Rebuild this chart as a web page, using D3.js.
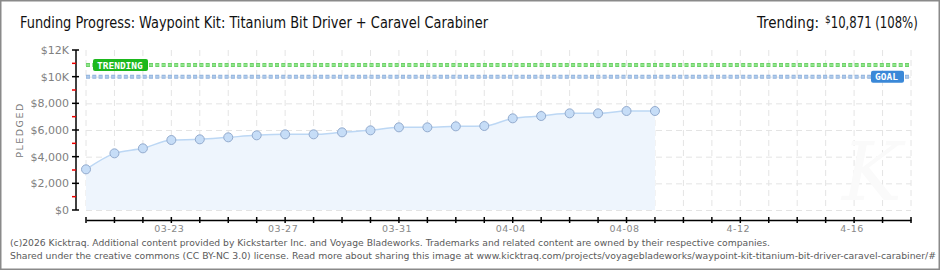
<!DOCTYPE html>
<html>
<head>
<meta charset="utf-8">
<script src="https://cdn.jsdelivr.net/npm/d3@7/dist/d3.min.js"></script>
<style>
  body { margin: 0; background: #fff; }
  svg { display: block; }
</style>
</head>
<body>
<div class="bigvis"></div>
<script>
var width = 940
var height = 270

// pledged total per day
var days = ["03-20","03-21","03-22","03-23","03-24","03-25","03-26","03-27","03-28","03-29",
            "03-30","03-31","04-01","04-02","04-03","04-04","04-05","04-06","04-07","04-08","04-09"]
var pledged = [3050, 4250, 4625, 5250, 5300, 5450, 5600, 5675, 5675, 5825,
               5975, 6200, 6200, 6275, 6300, 6875, 7050, 7250, 7250, 7425, 7425]

var goal = 10000
var trending = 10871

var tickDays = ["03-23", "03-27", "03-31", "04-04", "04-08", "04-12", "04-16"]
var tickLabels = ["03-23", "03-27", "03-31", "04-04", "04-08", "4-12", "4-16"]
var yTicks = [0, 2000, 4000, 6000, 8000, 10000, 12000]
var yTickLabels = ["$0", "$2,000", "$4,000", "$6,000", "$8,000", "$10K", "$12K"]

var parse = d3.utcParse("%Y-%m-%d")
function day(s){ return parse("2026-" + s) }

var svg = d3.select(".bigvis").append("svg")
    .attr("width", width)
    .attr("height", height)

// frame
svg.append("rect")
    .attr("x", 0.5).attr("y", 0.5)
    .attr("width", width - 1).attr("height", height - 1)
    .attr("fill", "#fff")
    .attr("stroke", "#8a8a8a")
    .attr("stroke-width", 2)

var x = d3.scaleUtc()
    .domain([day("03-20"), day("04-18")])
    .range([86, 911])
var y = d3.scaleLinear()
    .domain([0, 12000])
    .range([210, 50])

var allDays = d3.utcDay.range(day("03-20"), d3.utcDay.offset(day("04-18"), 1))

// grid
var grid = svg.append("g").attr("stroke", "#e4e4e4").attr("stroke-dasharray", "6,4")
grid.selectAll("line.v").data(allDays).enter().append("line")
    .attr("x1", d => x(d)).attr("x2", d => x(d))
    .attr("y1", y(12000)).attr("y2", y(0))
grid.selectAll("line.h").data(yTicks.slice(0, 6)).enter().append("line")
    .attr("x1", x.range()[0]).attr("x2", x.range()[1])
    .attr("y1", d => y(d) + 0.5).attr("y2", d => y(d) + 0.5)

// watermark
svg.append("text")
    .attr("x", 872).attr("y", 200)
    .attr("text-anchor", "middle")
    .attr("font-family", "DejaVu Serif")
    .attr("font-style", "italic")
    .attr("font-size", 80)
    .attr("fill", "#fafafa")
    .text("K")

var data = days.map((d, i) => ({date: day(d), value: pledged[i]}))

var area = d3.area()
    .x(d => x(d.date))
    .y0(y(0))
    .y1(d => y(d.value))
    .curve(d3.curveMonotoneX)
var line = d3.line()
    .x(d => x(d.date))
    .y(d => y(d.value))
    .curve(d3.curveMonotoneX)

svg.append("path").datum(data)
    .attr("d", area)
    .attr("fill", "#eef5fd")
svg.append("path").datum(data)
    .attr("d", line)
    .attr("fill", "none")
    .attr("stroke", "#bcd7f4")
    .attr("stroke-width", 1.5)

// goal + trending lines
function refLine(v, fill, stroke){
  var g = svg.append("g")
  g.append("line")
    .attr("x1", x.range()[0]).attr("x2", x.range()[1])
    .attr("y1", y(v)).attr("y2", y(v))
    .attr("stroke", stroke).attr("stroke-width", 4)
    .attr("stroke-dasharray", "4,2.3")
  g.append("line")
    .attr("x1", x.range()[0] + 0.5).attr("x2", x.range()[1])
    .attr("y1", y(v)).attr("y2", y(v))
    .attr("stroke", fill).attr("stroke-width", 2)
    .attr("stroke-dasharray", "3,3.3")
}
refLine(trending, "#8fe68a", "#6ccf68")
refLine(goal, "#b0cbec", "#92b3dc")

function badge(bx, by, w, h, color, label){
  svg.append("rect")
    .attr("x", bx).attr("y", by).attr("width", w).attr("height", h)
    .attr("rx", 2).attr("fill", color)
  svg.append("text")
    .attr("x", bx + 4).attr("y", by + h / 2 + 3.5)
    .attr("font-family", "DejaVu Sans Mono")
    .attr("font-weight", "bold")
    .attr("font-size", 9.5)
    .attr("fill", "#fff")
    .text(label)
}
badge(93, y(trending) - 6, 55, 12, "#1db81d", "TRENDING")
badge(871, y(goal) - 6, 33, 12, "#3a88d8", "GOAL")

// markers
svg.selectAll("circle.pt").data(data).enter().append("circle")
    .attr("cx", d => x(d.date))
    .attr("cy", d => y(d.value))
    .attr("r", 4.5)
    .attr("fill", "#c6ddf7")
    .attr("stroke", "#93abce")
    .attr("stroke-width", 1)

// y axis
var yAxis = svg.append("g").attr("transform", "translate(76,0)")
yAxis.append("line").attr("y1", y(12000)).attr("y2", y(0)).attr("stroke", "#000").attr("stroke-width", 1.5)
var minor = d3.range(1000, 12000, 2000)
yAxis.selectAll("line.minor").data(minor).enter().append("line")
    .attr("x1", -4).attr("x2", 0)
    .attr("y1", d => y(d)).attr("y2", d => y(d))
    .attr("stroke", "#e00").attr("stroke-width", 1.5)
yAxis.selectAll("line.major").data(yTicks).enter().append("line")
    .attr("x1", -4).attr("x2", 3)
    .attr("y1", d => y(d)).attr("y2", d => y(d))
    .attr("stroke", "#000").attr("stroke-width", 1.5)
yAxis.selectAll("text").data(yTicks).enter().append("text")
    .attr("x", -7).attr("y", d => y(d) + 4)
    .attr("text-anchor", "end")
    .attr("font-family", "DejaVu Sans")
    .attr("font-size", 11)
    .attr("fill", "#808080")
    .text((d, i) => yTickLabels[i])

svg.append("text")
    .attr("transform", "translate(23,130) rotate(-90)")
    .attr("text-anchor", "middle")
    .attr("font-family", "DejaVu Sans")
    .attr("font-size", 9.5)
    .attr("letter-spacing", 1.5)
    .attr("fill", "#777")
    .text("PLEDGED")

// x axis
var xAxis = svg.append("g").attr("transform", "translate(0,220)")
    .call(d3.axisBottom(x).tickValues(allDays).tickSize(0).tickFormat(""))
xAxis.select(".domain").attr("stroke", "#000").attr("stroke-width", 1.5)
xAxis.selectAll(".tick line").remove()
xAxis.selectAll("line.t").data(allDays).enter().append("line")
    .attr("x1", d => x(d)).attr("x2", d => x(d))
    .attr("y1", -3).attr("y2", 3)
    .attr("stroke", "#000").attr("stroke-width", 1.5)
xAxis.selectAll("text.lbl").data(tickDays).enter().append("text")
    .attr("x", d => x(day(d)) - 2)
    .attr("y", 12)
    .attr("text-anchor", "middle")
    .attr("font-family", "DejaVu Sans")
    .attr("font-size", 9.5)
    .attr("letter-spacing", 0.5)
    .attr("fill", "#888")
    .text((d, i) => tickLabels[i])

// title
svg.append("text")
    .attr("x", 20).attr("y", 28)
    .attr("font-family", "DejaVu Sans Condensed, DejaVu Sans")
    .attr("font-size", 15.5)
    .attr("textLength", 468)
    .attr("lengthAdjust", "spacingAndGlyphs")
    .attr("fill", "#111")
    .text("Funding Progress: Waypoint Kit: Titanium Bit Driver + Caravel Carabiner")

var tr = svg.append("text")
    .attr("x", 757).attr("y", 28)
    .attr("font-family", "DejaVu Sans Condensed, DejaVu Sans")
    .attr("font-size", 15.5)
    .attr("fill", "#111")
tr.append("tspan").attr("textLength", 62).attr("lengthAdjust", "spacingAndGlyphs").text("Trending:")
tr.append("tspan").attr("x", 825).attr("font-size", 10).attr("dy", -5).text("$")
tr.append("tspan").attr("dy", 5).attr("textLength", 87).attr("lengthAdjust", "spacingAndGlyphs")
    .text(d3.format(",")(trending) + " (" + Math.floor(trending / goal * 100) + "%)")

// footer
svg.append("text")
    .attr("x", 10).attr("y", 246)
    .attr("font-family", "DejaVu Sans")
    .attr("font-size", 9)
    .attr("textLength", 760)
    .attr("lengthAdjust", "spacingAndGlyphs")
    .attr("fill", "#5a5a5a")
    .text("(c)2026 Kicktraq. Additional content provided by Kickstarter Inc. and Voyage Bladeworks. Trademarks and related content are owned by their respective companies.")
svg.append("text")
    .attr("x", 10).attr("y", 259)
    .attr("font-family", "DejaVu Sans")
    .attr("font-size", 9)
    .attr("textLength", 926)
    .attr("lengthAdjust", "spacingAndGlyphs")
    .attr("fill", "#5a5a5a")
    .text("Shared under the creative commons (CC BY-NC 3.0) license. Read more about sharing this image at www.kicktraq.com/projects/voyagebladeworks/waypoint-kit-titanium-bit-driver-caravel-carabiner/#")
</script>
</body>
</html>
